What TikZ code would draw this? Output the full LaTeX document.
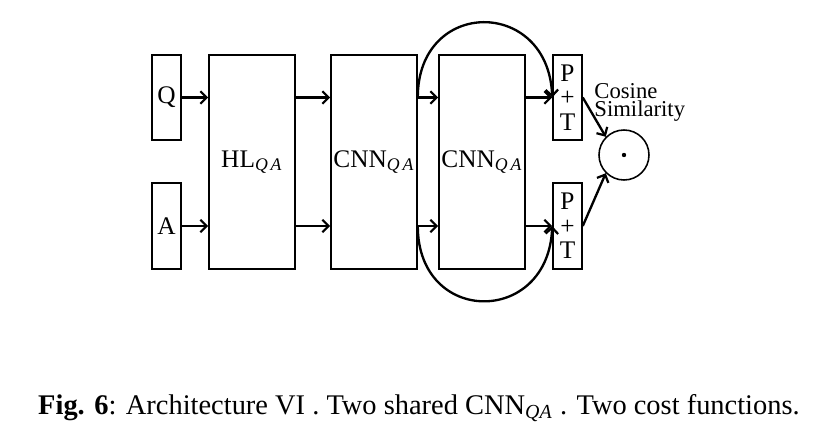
\documentclass[tikz,border=0pt]{standalone}
\usepackage{fontspec}
\setmainfont{Liberation Serif}
\usetikzlibrary{arrows.meta}
\newdimen\pxu
\pxu=0.45pt
\begin{document}
\begin{tikzpicture}[x=\pxu,y=-\pxu,
  box/.style={draw,line width=0.7pt,inner sep=0pt,font=\fontsize{11.4}{11}\selectfont},
  conn/.style={-{Straight Barb[length=2.8pt,width=5.6pt,line width=1pt]},line width=1.05pt},
  lbl/.style={anchor=base west,inner sep=0pt,font=\fontsize{10.2}{12}\selectfont}]
\useasboundingbox (0,0) rectangle (834,444);
\newcommand{\qa}{\textsubscript{\textit{Q\,A}}}
\node[box,minimum width=29*\pxu,minimum height=85*\pxu] (Q) at (166.5,97.5) {Q};
\node[box,minimum width=29*\pxu,minimum height=86*\pxu] (A) at (166.5,226) {A};
\node[box,minimum width=86*\pxu,minimum height=214*\pxu] (HL) at (252,162) {HL\qa};
\node[box,minimum width=86*\pxu,minimum height=214*\pxu] (C1) at (374,162) {CNN\qa};
\node[box,minimum width=86*\pxu,minimum height=214*\pxu] (C2) at (482,162) {CNN\qa};
\node[box,align=center,minimum width=29*\pxu,minimum height=85*\pxu] (P1) at (567.5,97.5) {P\\+\\T};
\node[box,align=center,minimum width=29*\pxu,minimum height=86*\pxu] (P2) at (567.5,226) {P\\+\\T};
\node[draw,circle,line width=0.7pt,minimum size=50*\pxu,inner sep=0pt] (S) at (624,155) {};
\fill (S.center) circle (2.2);
\node[lbl] (L1) at (594,99) {Cosine};
\node[lbl] (L2) at (594,117) {Similarity};
% arrows
\draw[conn] (Q.east) -- (Q.east -| HL.west);
\draw[conn] (A.east) -- (A.east -| HL.west);
\draw[conn] (HL.east |- Q.east) -- (C1.west |- Q.east);
\draw[conn] (HL.east |- A.east) -- (C1.west |- A.east);
\draw[conn] (C1.east |- Q.east) -- (C2.west |- Q.east);
\draw[conn] (C1.east |- A.east) -- (C2.west |- A.east);
\draw[conn] (C2.east |- Q.east) -- (P1.west);
\draw[conn] (C2.east |- A.east) -- (P2.west);
\draw[conn] (C1.east |- Q.east) .. controls +(0,-100) and +(-4,-100) .. (P1.west);
\draw[conn] (C1.east |- A.east) .. controls +(0,100) and +(-4,100) .. (P2.west);
\draw[conn] (P1.east) -- (S.135);
\draw[conn] (P2.east) -- (S.225);
% caption
\node[inner sep=0pt,font=\fontsize{12.8}{14}\selectfont] (cap) at (419,408) {\textbf{Fig. 6}: Architecture VI . Two shared CNN\textsubscript{\textit{QA}} . Two cost functions.};
\end{tikzpicture}
\end{document}
